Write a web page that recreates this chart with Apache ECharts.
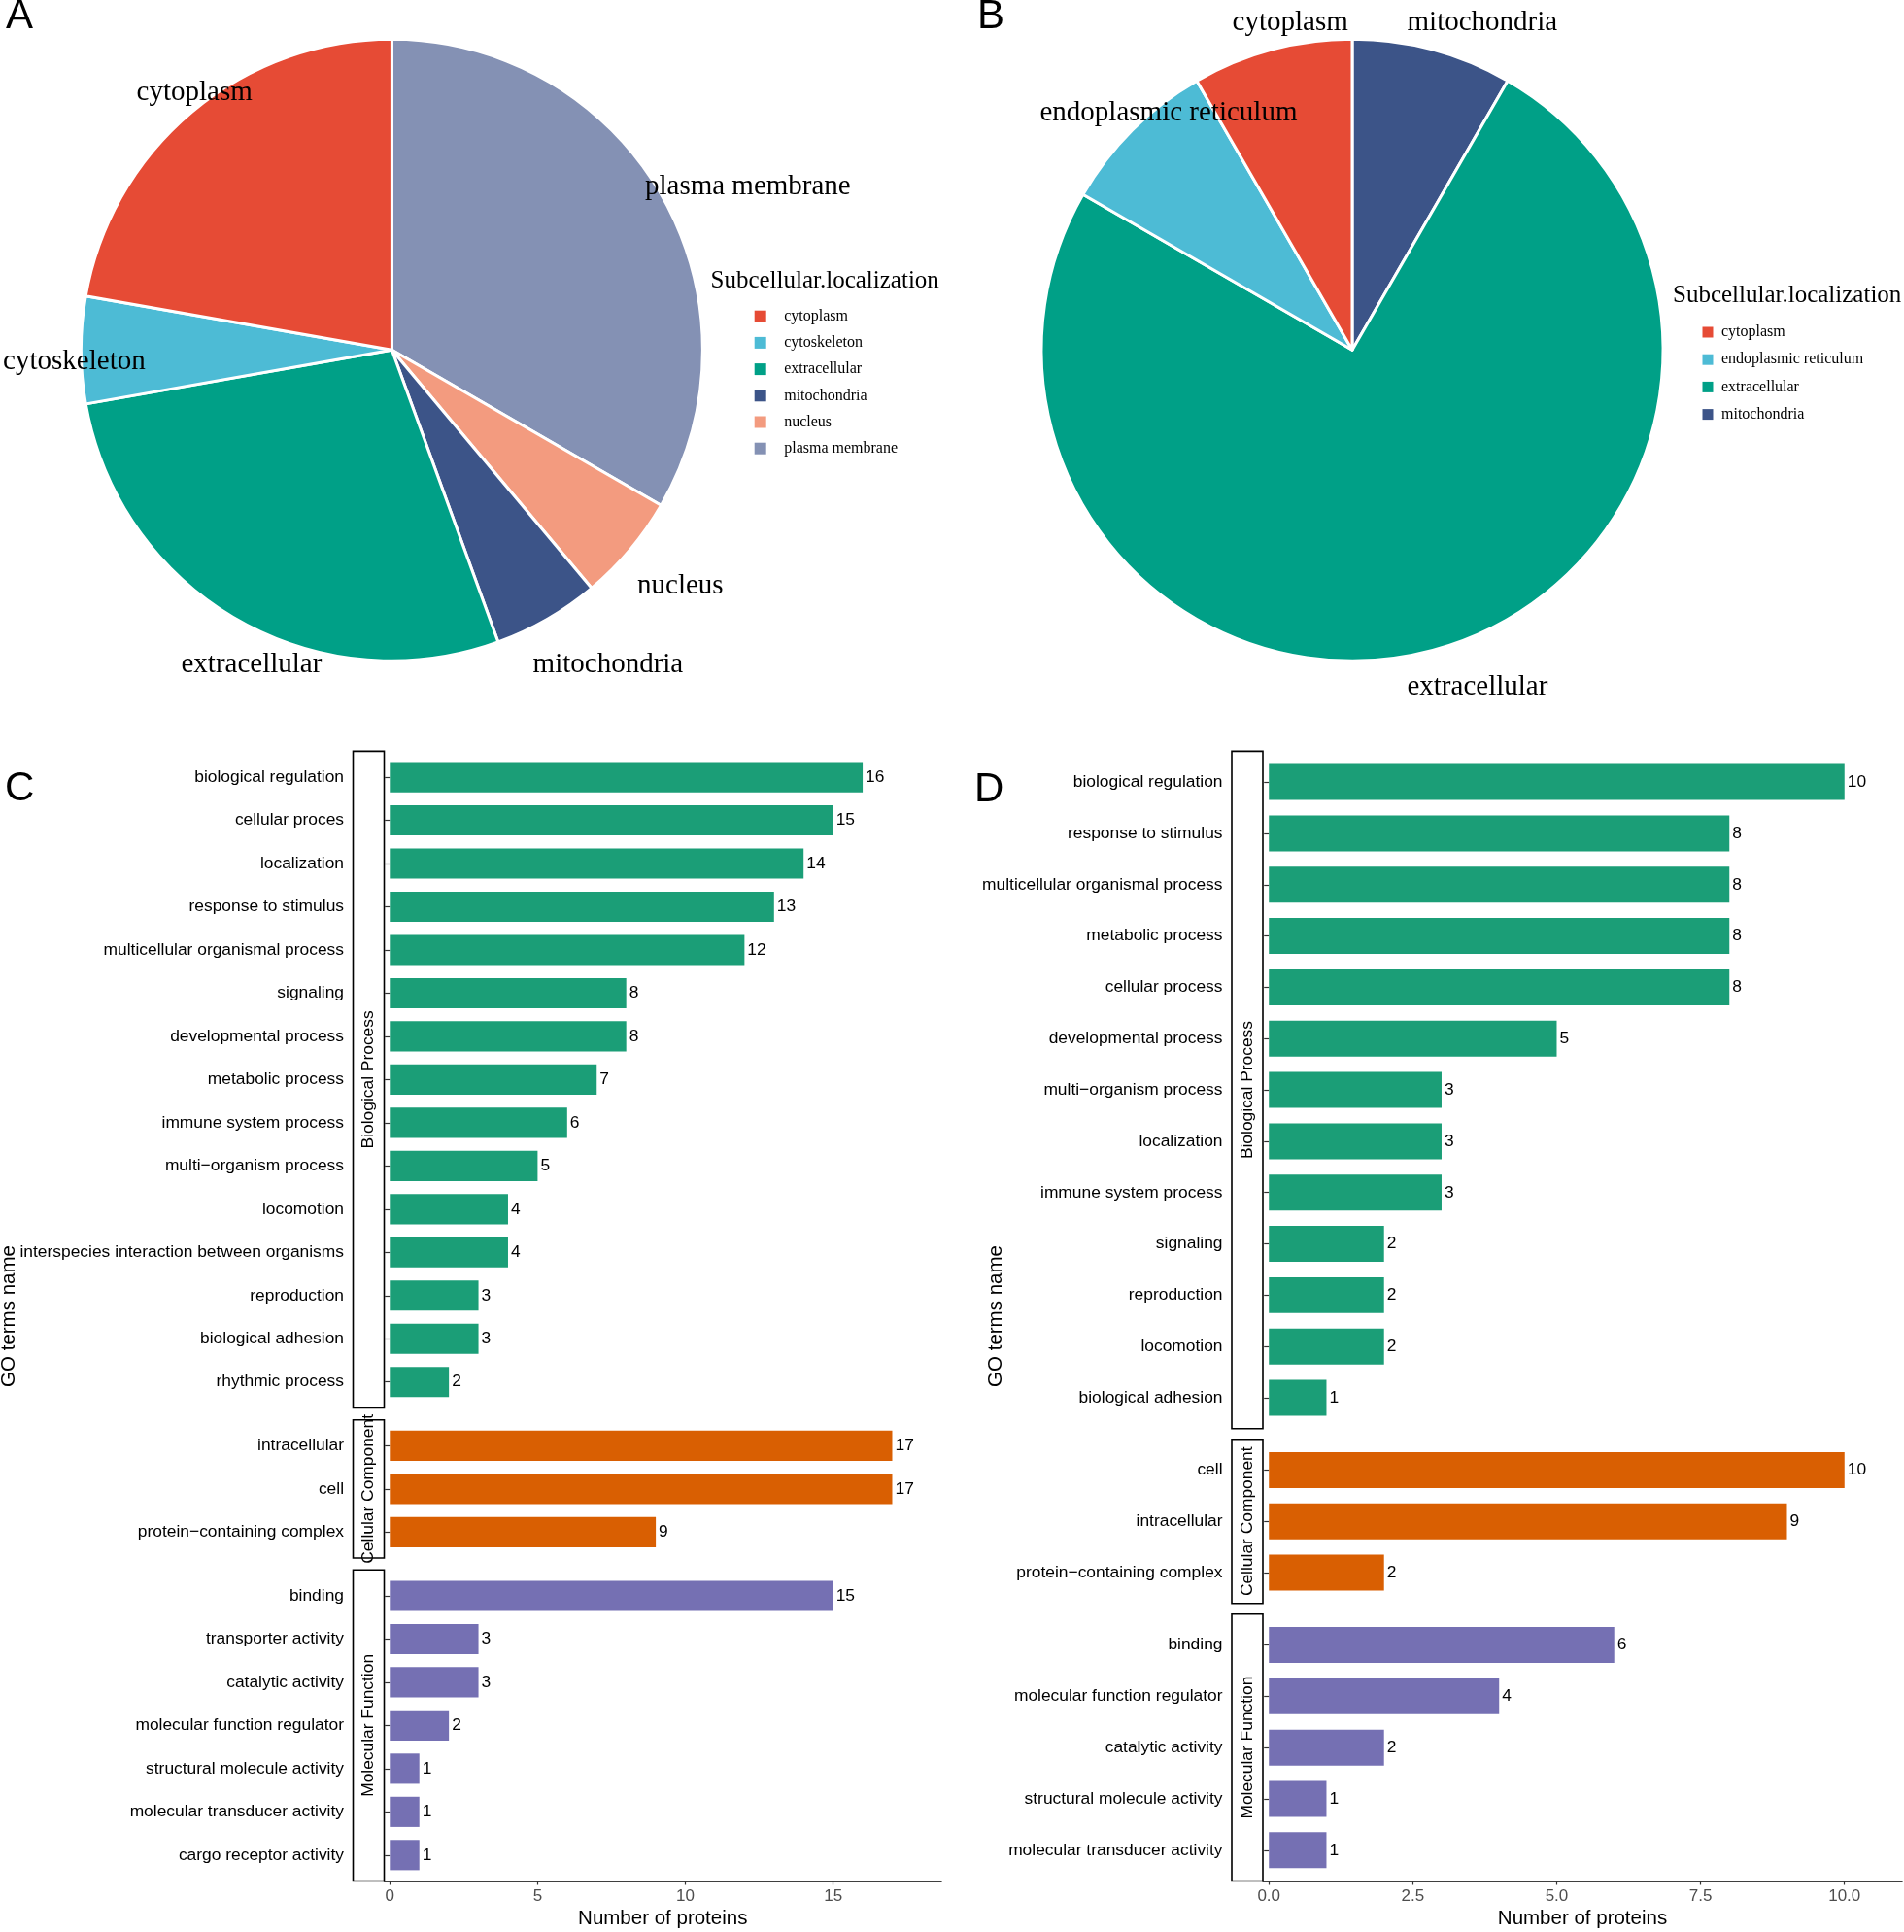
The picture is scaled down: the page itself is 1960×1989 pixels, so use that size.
<!DOCTYPE html>
<html><head><meta charset="utf-8">
<script src="https://cdn.jsdelivr.net/npm/echarts@6/dist/echarts.min.js"></script>
<style>html,body{margin:0;padding:0;background:#fff}#chart{width:1960px;height:1989px}</style>
</head><body><div id="chart"></div>
<script>
// ---------------- DATA ----------------
const pieA_names  = ['plasma membrane','nucleus','mitochondria','extracellular','cytoskeleton','cytoplasm'];
const pieA_values = [6, 1, 1, 5, 1, 4];
const pieB_names  = ['mitochondria','extracellular','endoplasmic reticulum','cytoplasm'];
const pieB_values = [1, 9, 1, 1];
const legendA_order = ['cytoplasm','cytoskeleton','extracellular','mitochondria','nucleus','plasma membrane'];
const legendB_order = ['cytoplasm','endoplasmic reticulum','extracellular','mitochondria'];

const C_bp_terms  = ['biological regulation','cellular proces','localization','response to stimulus','multicellular organismal process','signaling','developmental process','metabolic process','immune system process','multi\u2212organism process','locomotion','interspecies interaction between organisms','reproduction','biological adhesion','rhythmic process'];
const C_bp_counts = [16, 15, 14, 13, 12, 8, 8, 7, 6, 5, 4, 4, 3, 3, 2];
const C_cc_terms  = ['intracellular','cell','protein\u2212containing complex'];
const C_cc_counts = [17, 17, 9];
const C_mf_terms  = ['binding','transporter activity','catalytic activity','molecular function regulator','structural molecule activity','molecular transducer activity','cargo receptor activity'];
const C_mf_counts = [15, 3, 3, 2, 1, 1, 1];

const D_bp_terms  = ['biological regulation','response to stimulus','multicellular organismal process','metabolic process','cellular process','developmental process','multi\u2212organism process','localization','immune system process','signaling','reproduction','locomotion','biological adhesion'];
const D_bp_counts = [10, 8, 8, 8, 8, 5, 3, 3, 3, 2, 2, 2, 1];
const D_cc_terms  = ['cell','intracellular','protein\u2212containing complex'];
const D_cc_counts = [10, 9, 2];
const D_mf_terms  = ['binding','molecular function regulator','catalytic activity','structural molecule activity','molecular transducer activity'];
const D_mf_counts = [6, 4, 2, 1, 1];

const stripNames = ['Biological Process','Cellular Component','Molecular Function'];
const xTicksC = [0, 5, 10, 15];
const xTicksD = [0, 2.5, 5, 7.5, 10];

// ---------------- STYLE ----------------
const SANS = '"Liberation Sans", Arial, sans-serif';
const SERIF = '"Liberation Serif", "Times New Roman", serif';
const sliceColors = {
  'cytoplasm':'#E64B35','cytoskeleton':'#4DBBD5','endoplasmic reticulum':'#4DBBD5',
  'extracellular':'#00A087','mitochondria':'#3C5488','nucleus':'#F39B7F','plasma membrane':'#8491B4'
};
const groupColors = ['#1B9E77','#D95F02','#7570B3'];
// label nudges (px) relative to a ring at 1.1 x radius
const nudgeA = [[59,10],[25,15],[45,17],[33,17],[28,12],[25,7]];
const nudgeB = [[42,6],[37,4],[62,7],[28,6]];
const PIE_R = 320;

const series = [], grids = [], xAxes = [], yAxes = [];

function pieSeries(names, values, center) {
  return {type:'pie', center, radius: PIE_R, startAngle: 90, clockwise: true, silent: true,
    label:{show:false}, labelLine:{show:false}, emphasis:{disabled:true},
    itemStyle:{borderColor:'#fff', borderWidth:3},
    data: names.map((n,i)=>({name:n, value:values[i], itemStyle:{color:sliceColors[n]}}))};
}
function pieLabelSeries(names, values, center, nudges) {
  const rl = PIE_R * 1.1;
  return {type:'pie', center, radius:[rl-1, rl+1], startAngle:90, clockwise:true, silent:true,
    itemStyle:{color:'rgba(0,0,0,0)', borderWidth:0}, emphasis:{disabled:true},
    label:{show:true, position:'inside', formatter:'{b}', color:'#000', fontSize:29, fontFamily:SERIF},
    labelLine:{show:false},
    labelLayout: p => ({dx: nudges[p.dataIndex][0], dy: nudges[p.dataIndex][1]}),
    data: names.map((n,i)=>({name:n, value:values[i]}))};
}
series.push(pieSeries(pieA_names, pieA_values, [403.4, 360.3]));
series.push(pieSeries(pieB_names, pieB_values, [1392, 360.3]));
series.push(pieLabelSeries(pieA_names, pieA_values, [403.4, 360.3], nudgeA));
series.push(pieLabelSeries(pieB_names, pieB_values, [1392, 360.3], nudgeB));

const STRIP_W = 32;
function buildBars(cfg) {
  const groups = cfg.groups;
  const nTot = groups.reduce((a,g)=>a+g.terms.length, 0);
  const s = (cfg.bottom - cfg.top - cfg.gap*(groups.length-1)) / (nTot + 0.2*groups.length);
  let y = cfg.top;
  groups.forEach((g, k) => {
    const n = g.terms.length;
    const gi = grids.length;
    const last = k === groups.length - 1;
    grids.push({left: cfg.left, width: cfg.width, top: y + 0.1*s, height: n*s});
    xAxes.push({type:'value', gridIndex: gi, min: cfg.xmin, max: cfg.xmax, show: last,
      offset: last ? 0.1*s : 0, splitLine:{show:false},
      axisLine:{show:true, lineStyle:{color:'#000', width:1.6}},
      axisTick:{show:true, length:4, customValues: cfg.ticks, lineStyle:{color:'#333', width:1.2}},
      axisLabel:{customValues: cfg.ticks, formatter: cfg.fmt, color:'#4d4d4d', fontSize:17, fontFamily:SANS, margin:7},
      name: last ? 'Number of proteins' : '', nameLocation:'middle', nameGap: 28,
      nameTextStyle:{fontSize:20.5, color:'#000', fontFamily:SANS}});
    yAxes.push({type:'category', gridIndex: gi, inverse:true, data: g.terms, offset: STRIP_W,
      axisLine:{show:false}, splitLine:{show:false},
      axisTick:{show:true, length:5, alignWithLabel:true, interval:0, lineStyle:{color:'#333', width:1.2}},
      axisLabel:{interval:0, fontSize:17.4, color:'#000', fontFamily:SANS, margin:9.5}});
    series.push({type:'bar', xAxisIndex:gi, yAxisIndex:gi, data:g.counts, barWidth:'70%', silent:true,
      itemStyle:{color:g.color},
      label:{show:true, position:'right', distance:3, color:'#000', fontSize:17.4, fontFamily:SANS}});
    series.push({type:'custom', xAxisIndex:gi, yAxisIndex:gi, clip:false, silent:true, data:[[0,0]], z:3,
      renderItem: (params, api) => {
        const cs = params.coordSys;
        const band = cs.height / n;
        const x0 = cs.x - STRIP_W, y0 = cs.y - 0.1*band, h = cs.height + 0.2*band;
        return {type:'group', children:[
          {type:'rect', shape:{x:x0, y:y0, width:STRIP_W, height:h}, style:{fill:'#fff', stroke:'#000', lineWidth:1.6}},
          {type:'text', x:x0 + STRIP_W/2, y:y0 + h/2, rotation:Math.PI/2,
            style:{text:g.strip, align:'center', verticalAlign:'middle', fill:'#000', fontSize:17.4, fontFamily:SANS}}
        ]};
      }});
    y += (n + 0.2)*s + cfg.gap;
  });
}

buildBars({groups:[
    {terms:C_bp_terms, counts:C_bp_counts, color:groupColors[0], strip:stripNames[0]},
    {terms:C_cc_terms, counts:C_cc_counts, color:groupColors[1], strip:stripNames[1]},
    {terms:C_mf_terms, counts:C_mf_counts, color:groupColors[2], strip:stripNames[2]}],
  left:395.5, width:573.5, xmin:-0.19, xmax:18.66, ticks:xTicksC, fmt: v => String(v),
  top:773.4, bottom:1936.5, gap:12.3});
buildBars({groups:[
    {terms:D_bp_terms, counts:D_bp_counts, color:groupColors[0], strip:stripNames[0]},
    {terms:D_cc_terms, counts:D_cc_counts, color:groupColors[1], strip:stripNames[1]},
    {terms:D_mf_terms, counts:D_mf_counts, color:groupColors[2], strip:stripNames[2]}],
  left:1300, width:658, xmin:-0.105, xmax:11.0, ticks:xTicksD, fmt: v => v.toFixed(1),
  top:773.4, bottom:1936.5, gap:11});

const letterStyle = {fontSize:42, fontWeight:'normal', fontFamily:SANS, color:'#000', lineHeight:42};
const legTitleStyle = {fontSize:25, fontWeight:'normal', fontFamily:SERIF, color:'#000', lineHeight:25};

const option = {
  backgroundColor:'#fff',
  animation:false,
  title:[
    {text:'A', left:6, top:-4, padding:0, textStyle:letterStyle},
    {text:'B', left:1006, top:-4, padding:0, textStyle:letterStyle},
    {text:'C', left:5, top:791, padding:0, textStyle:letterStyle},
    {text:'D', left:1003, top:792, padding:0, textStyle:letterStyle},
    {text:'Subcellular.localization', left:731.5, top:276.5, padding:0, textStyle:legTitleStyle},
    {text:'Subcellular.localization', left:1722, top:291.5, padding:0, textStyle:legTitleStyle}
  ],
  legend:[
    {data:legendA_order, orient:'vertical', left:776.7, top:317.7, padding:0, itemWidth:12, itemHeight:12, itemGap:11.2,
      icon:'rect', selectedMode:false, itemStyle:{borderWidth:0},
      textStyle:{fontSize:16, lineHeight:16, fontFamily:SERIF, color:'#000', padding:[0,0,0,13.5]}},
    {data:legendB_order, orient:'vertical', left:1752.5, top:334, padding:0, itemWidth:11, itemHeight:11, itemGap:12.2,
      icon:'rect', selectedMode:false, itemStyle:{borderWidth:0},
      textStyle:{fontSize:16, lineHeight:16, fontFamily:SERIF, color:'#000', padding:[0,0,0,3.5]}}
  ],
  grid: grids, xAxis: xAxes, yAxis: yAxes, series: series,
  graphic:[
    {type:'text', x:9.4, y:1355, rotation:Math.PI/2, silent:true,
      style:{text:'GO terms name', align:'center', verticalAlign:'middle', fontSize:20.5, fontFamily:SANS, fill:'#000'}},
    {type:'text', x:1025.6, y:1355, rotation:Math.PI/2, silent:true,
      style:{text:'GO terms name', align:'center', verticalAlign:'middle', fontSize:20.5, fontFamily:SANS, fill:'#000'}}
  ]
};
const chart = echarts.init(document.getElementById('chart'), null, {renderer:'canvas', width:1960, height:1989});
chart.setOption(option);
</script></body></html>
